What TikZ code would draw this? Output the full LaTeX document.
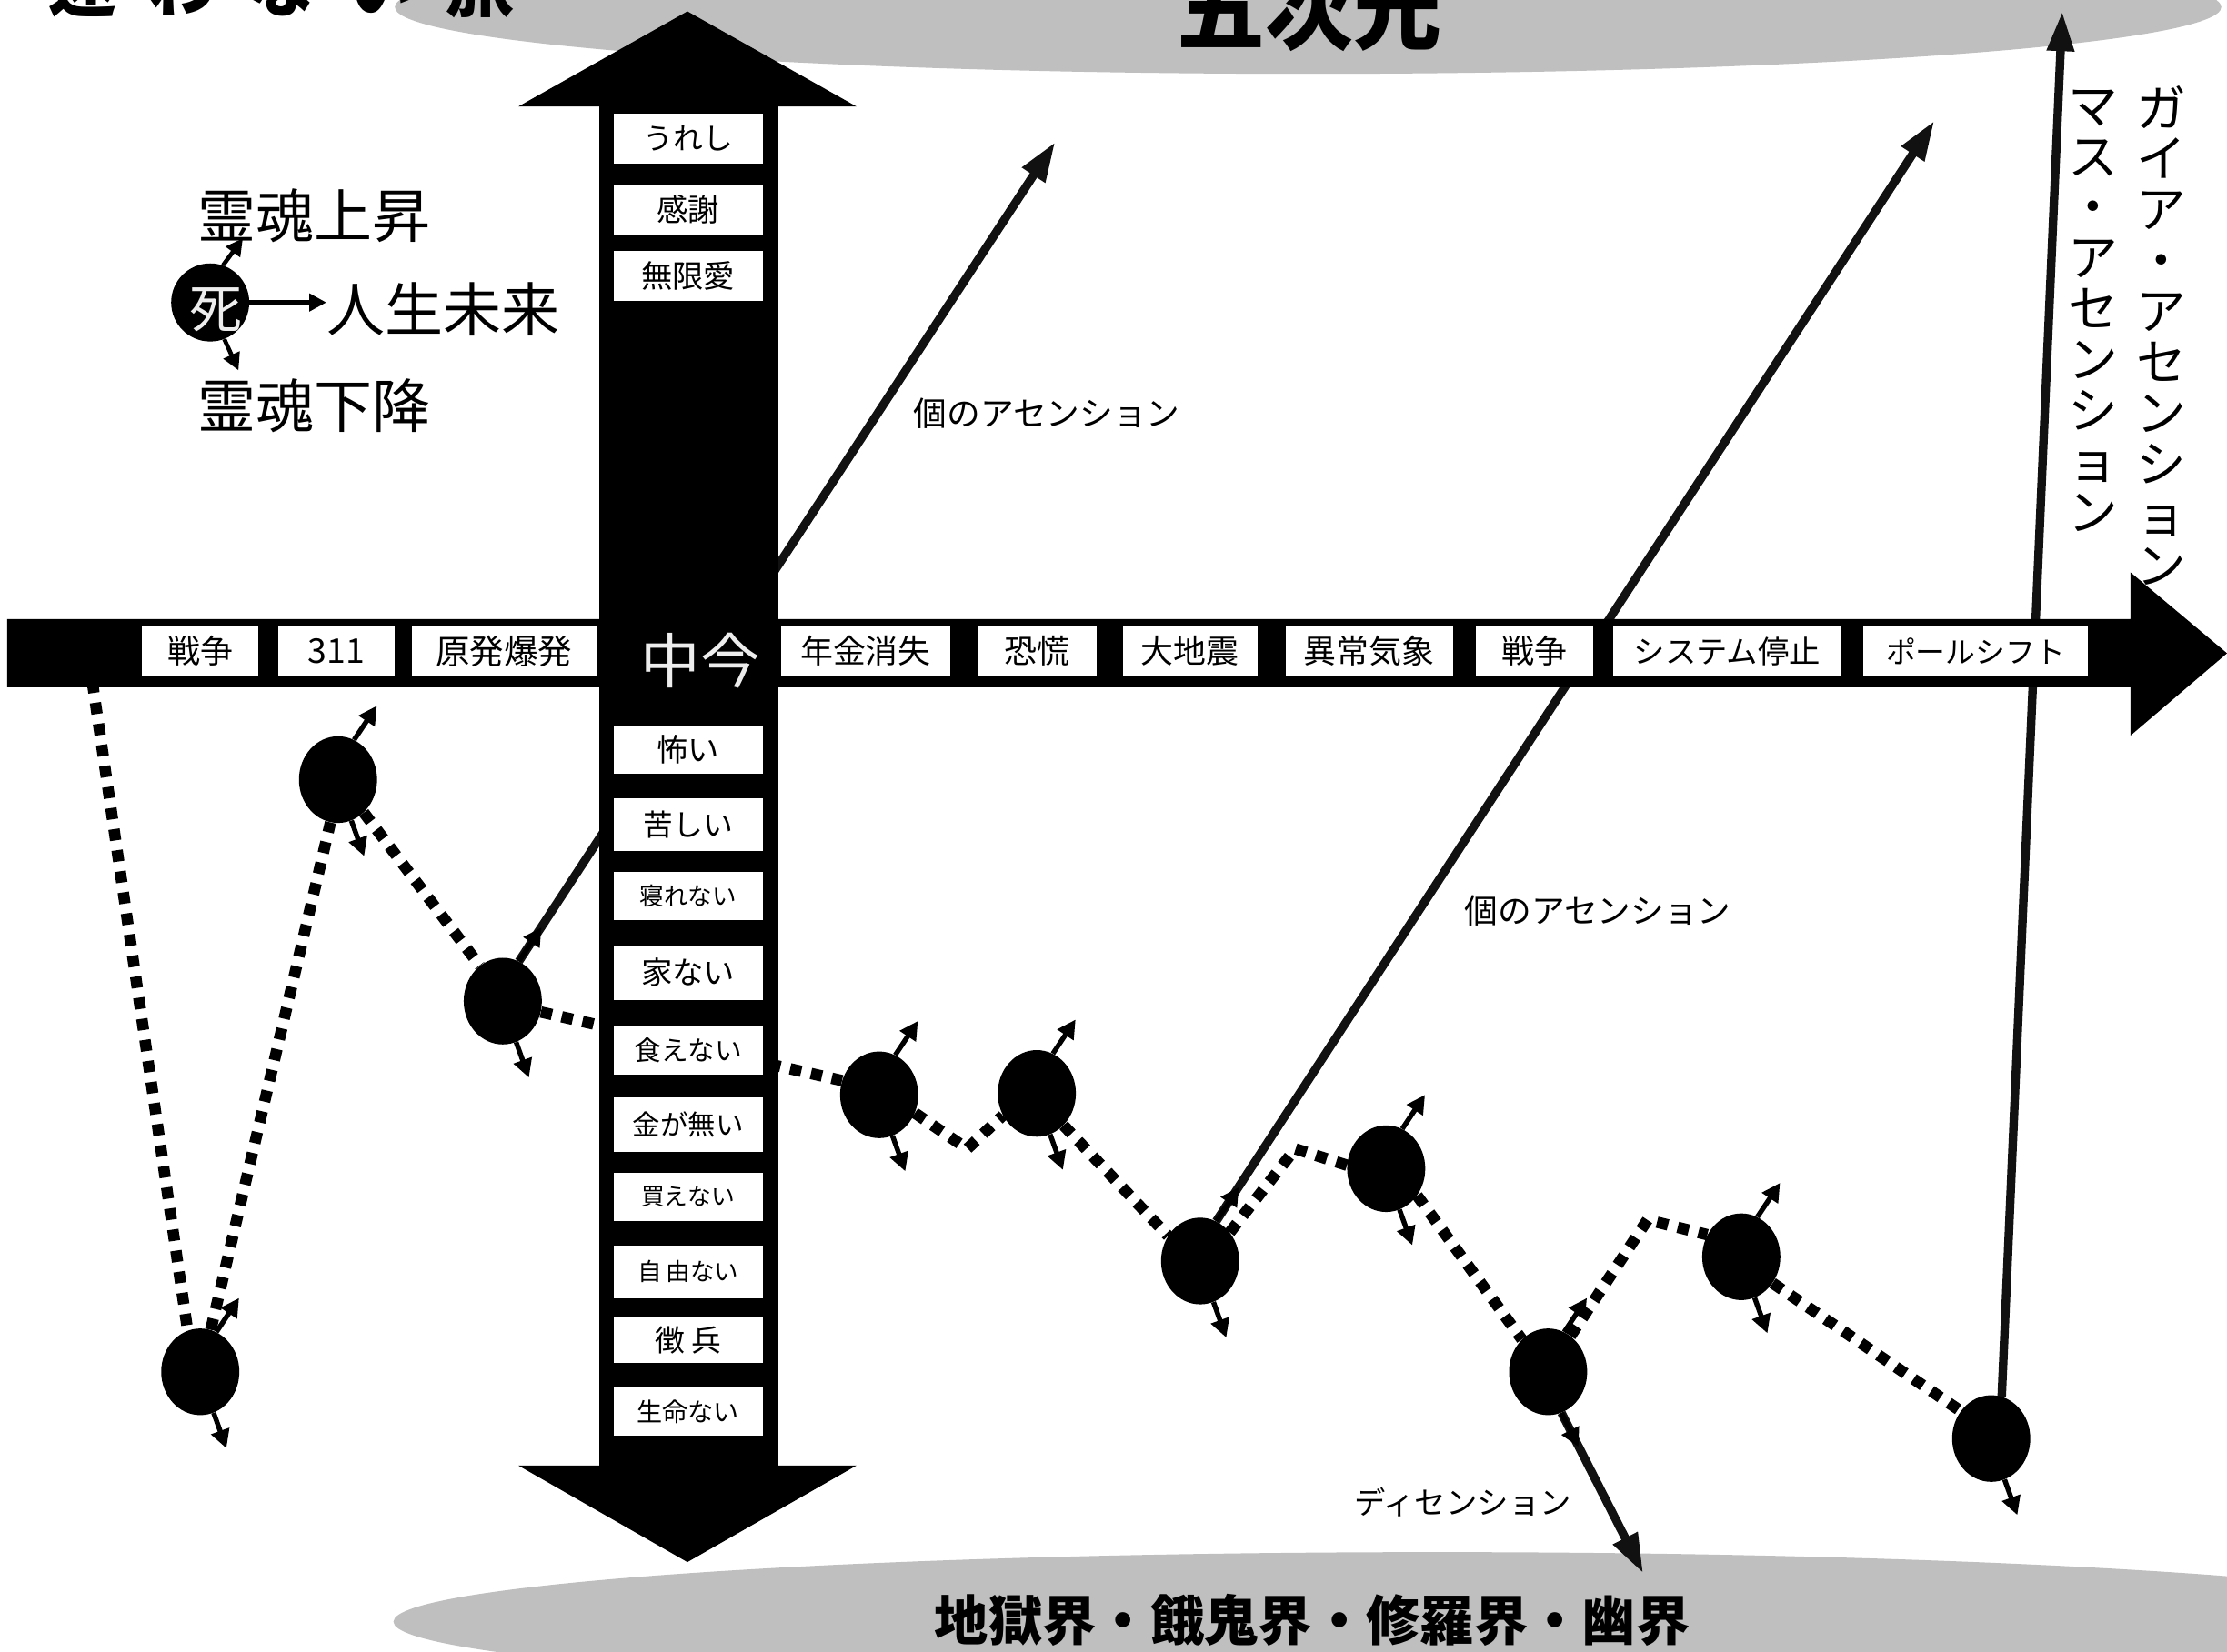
\documentclass[tikz,border=0pt]{standalone}
\usepackage{fontspec}
\setmainfont{Noto Sans CJK JP}
\usetikzlibrary{arrows.meta,shapes.geometric}
\pgfdeclarelayer{back}
\pgfdeclarelayer{mid}
\pgfsetlayers{back,mid,main}
\definecolor{ellgray}{HTML}{BFBFBF}
\definecolor{linegray}{HTML}{111111}
\tikzset{
  fs/.style={font=\fontsize{#1}{#1}\selectfont},
  bfs/.style={font=\fontsize{#1}{#1}\selectfont\bfseries},
  wbox/.style={fill=white, inner sep=0pt},
  ball/.style={ellipse, fill=black, minimum width=55pt, minimum height=61pt, inner sep=0pt},
  dots/.style={line width=8pt, dash pattern=on 8pt off 7pt},
  sarrow/.style={line width=3.5pt, -{Triangle[length=13pt,width=13pt]}},
  barrow/.style={draw=linegray, line width=6pt, -{Triangle[length=28pt,width=18pt]}},
  larrow/.style={line width=3pt, -{Triangle[length=12pt,width=12pt]}},
  vtext/.style={font=\fontsize{35}{35.8}\selectfont, align=center, inner sep=0pt, anchor=north},
}
\begin{document}
\begin{tikzpicture}[x=1pt,y=-1pt]
\useasboundingbox (0,0) rectangle (1568,1163);

% gray ellipses
\begin{pgfonlayer}{back}
\fill[ellgray] (921,5) ellipse [x radius=643, y radius=47];
\fill[ellgray] (1012,1142) ellipse [x radius=735, y radius=49];
\end{pgfonlayer}

% titles
\node[bfs=62, inner sep=0pt] (fifth) at (922,7) {五次元};
\node[bfs=48, inner sep=0pt] (title) at (198,-10) {迷\kern22pt わ\kern22pt な\kern22pt い\kern22pt 旅};
\node[bfs=38, inner sep=0pt] (hell) at (924,1141) {地獄界・餓鬼界・修羅界・幽界};

% arrows (bars)
\fill (5,436) -- (1500,436) -- (1500,403) -- (1568,460) -- (1500,518) -- (1500,484) -- (5,484) -- cycle;
\fill (422,75) -- (365,75) -- (484,8) -- (603,75) -- (548,75) -- (548,1032) -- (603,1032) -- (484,1100) -- (365,1032) -- (422,1032) -- cycle;

% horizontal boxes
\node[wbox, fs=23, minimum width=82pt, minimum height=35pt] (h1) at (141,458.5) {戦争};
\node[wbox, fs=24, minimum width=82pt, minimum height=35pt] (h2) at (237,458.5) {311};
\node[wbox, fs=24, minimum width=130pt, minimum height=35pt] (h3) at (355,458.5) {原発爆発};
\node[fs=42, text=white!93!black, inner sep=0pt] (now) at (493,465) {中今};
\node[wbox, fs=23, minimum width=119pt, minimum height=35pt] (h4) at (609.5,458.5) {年金消失};
\node[wbox, fs=23, minimum width=84pt, minimum height=35pt] (h5) at (730,458.5) {恐慌};
\node[wbox, fs=23, minimum width=95pt, minimum height=35pt] (h6) at (838,458.5) {大地震};
\node[wbox, fs=23, minimum width=118pt, minimum height=35pt] (h7) at (964,458.5) {異常気象};
\node[wbox, fs=23, minimum width=83pt, minimum height=35pt] (h8) at (1080.5,458.5) {戦争};
\node[wbox, fs=22, minimum width=160pt, minimum height=35pt] (h9) at (1216,458.5) {システム停止};
\node[wbox, fs=21, minimum width=158pt, minimum height=35pt] (h10) at (1391,458.5) {ポールシフト};

% vertical boxes (upper)
\node[wbox, fs=21, minimum width=105pt, minimum height=35pt] (u1) at (484.5,97.5) {うれし};
\node[wbox, fs=22, minimum width=105pt, minimum height=35pt] (u2) at (484.5,147.5) {感謝};
\node[wbox, fs=22, minimum width=105pt, minimum height=35pt] (u3) at (484.5,194.5) {無限愛};
% vertical boxes (lower)
\node[wbox, fs=22, minimum width=105pt, minimum height=34pt] (d1) at (484.5,528) {怖い};
\node[wbox, fs=21, minimum width=105pt, minimum height=37pt] (d2) at (484.5,580.5) {苦しい};
\node[wbox, fs=17, minimum width=105pt, minimum height=34pt] (d3) at (484.5,631) {寝れない};
\node[wbox, fs=22, minimum width=105pt, minimum height=38pt] (d4) at (484.5,685) {家ない};
\node[wbox, fs=19, minimum width=105pt, minimum height=35pt] (d5) at (484.5,739.5) {食えない};
\node[wbox, fs=19.5, minimum width=105pt, minimum height=38pt] (d6) at (484.5,792) {金が無い};
\node[wbox, fs=16.5, minimum width=105pt, minimum height=34pt] (d7) at (484.5,843) {買えない};
\node[wbox, fs=17, minimum width=105pt, minimum height=37pt] (d8) at (484.5,895.5) {自\hspace{3pt}由ない};
\node[wbox, fs=21, minimum width=105pt, minimum height=33pt] (d9) at (484.5,943.5) {徴\hspace{5pt}兵};
\node[wbox, fs=18, minimum width=105pt, minimum height=34pt] (d10) at (484.5,994) {生命ない};

% legend
\node[circle, fill=black, minimum size=55pt, inner sep=0pt] (death) at (148,213) {};
\node[fs=37, text=white!93!black, inner sep=0pt] (deathtxt) at (152,218) {死};
\node[fs=41, inner sep=0pt] (life) at (312,218) {人生未来};
\node[fs=41, inner sep=0pt] (rise) at (221,152) {霊魂上昇};
\node[fs=41, inner sep=0pt] (fall) at (221,286) {霊魂下降};
\draw[larrow] (death.east) -- (life.west |- death.east);
\draw[larrow] (death.71) -- ++(14,-19);
\draw[larrow] (death.-69) -- ++(10,22);

% balls
\node[ball] (b1) at (141,966) {};
\node[ball] (b2) at (238,549) {};
\node[ball] (b3) at (354,705) {};
\node[ball] (b4) at (619,771) {};
\node[ball] (b5) at (730,770) {};
\node[ball] (b6) at (845,888) {};
\node[ball] (b7) at (976,823) {};
\node[ball] (b8) at (1090,966) {};
\node[ball] (b9) at (1226,885) {};
\node[ball] (b10) at (1402,1013) {};

\foreach \b in {b1,b2,b3,b4,b5,b6,b7,b8,b9} {\draw[sarrow] (\b.68) -- ++(16,-24);}
\foreach \b in {b1,b2,b3,b4,b5,b6,b7,b9,b10} {\draw[sarrow] (\b.-72) -- ++(9,25);}
\draw[sarrow] (b8.-72) -- ++(12,24);

% dotted path and long arrows
\begin{pgfonlayer}{mid}
\coordinate (s0) at (65,480);
\coordinate (v1) at (681,809);
\coordinate (p1) at (912,809);
\coordinate (p2) at (1160,859);
\draw[dots] (s0) -- (b1.107);
\draw[dots] (b1.76) -- (b2.-100);
\draw[dots] (b2.-52) -- (b3.123);
\draw[dots] (b3.-16) -- (b4.159);
\draw[dots] (b4.-27) -- (v1) -- (b5.-147);
\draw[dots] (b5.-50) -- (b6.142);
\draw[dots] (b6.44) -- (p1) -- (b7.175);
\draw[dots] (b7.-41) -- (b8.129);
\draw[dots] (b8.58) -- (p2) -- (b9.147);
\draw[dots] (b9.-40) -- (b10.138);
\coordinate (a1) at (743,100);
\coordinate (a2) at (1362,85);
\coordinate (a3) at (1452,8);
\coordinate (a4) at (1157,1108);
\draw[barrow] (b3.68) -- (a1);
\draw[barrow] (b6.68) -- (a2);
\draw[barrow] (b10.76) -- (a3);
\draw[barrow] (b8.-72) -- (a4);
\end{pgfonlayer}

% labels
\node[fs=23.5] (asc1) at (737,291) {個のアセンション};
\node[fs=23.5] (asc2) at (1125,641) {個のアセンション};
\node[fs=22] (desc) at (1030,1058) {ディセンション};
\node[vtext] (gaia) at (1522,60) {ガ\\イ\\ア\\・\\ア\\セ\\ン\\シ\\ョ\\ン};
\node[vtext] (mass) at (1474,63) {マ\\ス\\・\\ア\\セ\\ン\\シ\\ョ\\ン};
\end{tikzpicture}
\end{document}
